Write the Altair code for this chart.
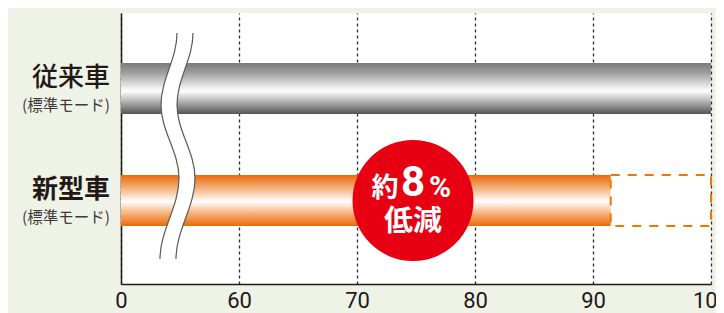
import altair as alt
import pandas as pd

# ---- data ----
categories = ["従来車", "新型車"]
subtitles = ["(標準モード)", "(標準モード)"]
values = [100, 91.5]
reference_value = 100
tick_values = [50, 60, 70, 80, 90, 100]
tick_labels = ["0", "60", "70", "80", "90", "100"]
badge_prefix = ["約"]
badge_number = ["8"]
badge_unit = ["%"]
badge_word = ["低減"]

bars = pd.DataFrame({"cat": categories, "sub": subtitles, "value": values,
                     "zero": [0] * len(categories)})
ghost = pd.DataFrame({"cat": [categories[1]], "start": [values[1]],
                      "end": [reference_value]})
badge = pd.DataFrame({"cat": [categories[1]], "a": badge_prefix,
                      "n": badge_number, "u": badge_unit, "w": badge_word})
deco = pd.DataFrame({"k": [0]})

label_expr = ("[" + ",".join(f"'{t}'" for t in tick_labels) + "][indexof(["
              + ",".join(str(v) for v in tick_values) + "], datum.value)]")

JP = "Noto Sans CJK JP"

xscale = alt.Scale(domain=[50, 100], nice=False, zero=False, clamp=True)
yscale = alt.Scale(domain=categories, paddingInner=0.5446,
                   paddingOuter=0.4821, align=0.463)

x_axis = alt.Axis(values=tick_values, labelExpr=label_expr, grid=True,
                  gridDash=[3, 3], gridColor="#2b2b2b", gridWidth=1.3,
                  ticks=False, domain=True, domainColor="#231815",
                  domainWidth=1.5, labelFont="Roboto", labelFontSize=22,
                  labelColor="#231815", labelPadding=6, title=None,
                  labelFlush=False, labelOverlap=False)
y_axis = alt.Axis(labels=False, ticks=False, grid=False, domain=True,
                  domainColor="#231815", domainWidth=1.5, title=None)

gray_grad = alt.Gradient(
    gradient="linear", x1=0, y1=0, x2=0, y2=1,
    stops=[alt.GradientStop(color="#7a7a7a", offset=0),
           alt.GradientStop(color="#9c9c9c", offset=0.18),
           alt.GradientStop(color="#ffffff", offset=0.55),
           alt.GradientStop(color="#8e8e8e", offset=0.85),
           alt.GradientStop(color="#555555", offset=1)])
orange_grad = alt.Gradient(
    gradient="linear", x1=0, y1=0, x2=0, y2=1,
    stops=[alt.GradientStop(color="#ea6a0c", offset=0),
           alt.GradientStop(color="#f5ad78", offset=0.25),
           alt.GradientStop(color="#ffffff", offset=0.52),
           alt.GradientStop(color="#f5a86c", offset=0.78),
           alt.GradientStop(color="#ea6a0a", offset=1)])

base = alt.Chart(bars)
X = alt.X("value:Q", scale=xscale, axis=x_axis)
Y = alt.Y("cat:N", scale=yscale, axis=y_axis)

gray = base.transform_filter(alt.datum.cat == categories[0]).mark_bar(
    fill=gray_grad).encode(x=X, x2="zero:Q", y=Y)
orange = base.transform_filter(alt.datum.cat == categories[1]).mark_bar(
    fill=orange_grad).encode(x=X, x2="zero:Q", y=Y)

ghost_layer = alt.Chart(ghost).mark_bar(
    filled=False, color="#ee7800", strokeDash=[9, 8], strokeWidth=2
).encode(x=alt.X("start:Q", scale=xscale, axis=x_axis), x2="end:Q", y=Y)

# axis-break decoration (wavy white band)
left_p = "M -0.5 -113 C -0.5 -87 -16.5 -67 -16.5 -41 C -16.5 -15 1.5 6 1.5 32 C 1.5 61 -17.5 84 -17.5 113"
right_p = "M 15.5 -113 C 15.5 -87 -0.5 -67 -0.5 -41 C -0.5 -15 17.5 6 17.5 32 C 17.5 61 -1.5 84 -1.5 113"
fill_p = (left_p + " L -1.5 113 C -1.5 84 17.5 61 17.5 32 C 17.5 6 -0.5 -15 -0.5 -41"
          " C -0.5 -67 15.5 -87 15.5 -113 Z")
brk_fill = alt.Chart(deco).mark_point(
    shape=fill_p, size=4, filled=True, color="white", opacity=1, strokeWidth=0
).encode(x=alt.value(56.5), y=alt.value(133))
brk_l = alt.Chart(deco).mark_point(
    shape=left_p, size=4, filled=False, color="#5a5a5a", opacity=1, strokeWidth=1.2
).encode(x=alt.value(56.5), y=alt.value(133))
brk_r = alt.Chart(deco).mark_point(
    shape=right_p, size=4, filled=False, color="#5a5a5a", opacity=1, strokeWidth=1.2
).encode(x=alt.value(56.5), y=alt.value(133))

# category labels
main0 = base.transform_filter(alt.datum.cat == categories[0]).mark_text(
    font=JP, fontSize=26, fontWeight=500, color="#231815", align="right",
    baseline="alphabetic", dy=-2.5).encode(x=alt.value(-11), y=Y, text="cat:N")
main1 = base.transform_filter(alt.datum.cat == categories[1]).mark_text(
    font=JP, fontSize=26, fontWeight="bold", color="#231815", align="right",
    baseline="alphabetic", dy=-2.5).encode(x=alt.value(-11), y=Y, text="cat:N")
subl = base.mark_text(
    font=JP, fontSize=15.5, color="#3e3a39", align="right",
    baseline="alphabetic", dy=22).encode(x=alt.value(-11), y=Y, text="sub:N")

# badge
bchart = alt.Chart(badge)
circle = bchart.mark_circle(size=14641, color="#e60012", opacity=1).encode(
    x=alt.value(292), y=Y)
t_a = bchart.mark_text(font=JP, fontSize=27, fontWeight="bold", color="white",
                       align="center", baseline="alphabetic", dx=-28, dy=-3.5
                       ).encode(x=alt.value(292), y=Y, text="a:N")
t_n = bchart.mark_text(font="Roboto", fontSize=42, fontWeight="bold", color="white",
                       align="center", baseline="alphabetic", dx=0, dy=-5
                       ).encode(x=alt.value(292), y=Y, text="n:N")
t_u = bchart.mark_text(font="Roboto", fontSize=30, fontWeight="bold", color="white",
                       align="center", baseline="alphabetic", dx=27, dy=-4
                       ).encode(x=alt.value(292), y=Y, text="u:N")
t_w = bchart.mark_text(font=JP, fontSize=29, fontWeight="bold", color="white",
                       align="center", baseline="alphabetic", dx=0, dy=30
                       ).encode(x=alt.value(292), y=Y, text="w:N")

chart = alt.layer(
    gray, orange, ghost_layer, brk_fill, brk_l, brk_r,
    main0, main1, subl, circle, t_a, t_n, t_u, t_w
).properties(
    width=590, height=271,
    padding={"left": 113, "top": 5, "right": 5, "bottom": 29},
    autosize=alt.AutoSizeParams(type="none"),
    background="#eef2e7",
).configure_view(fill="white", strokeWidth=0)

chart.save("out.html", embed_options={"renderer": "svg", "actions": False})
